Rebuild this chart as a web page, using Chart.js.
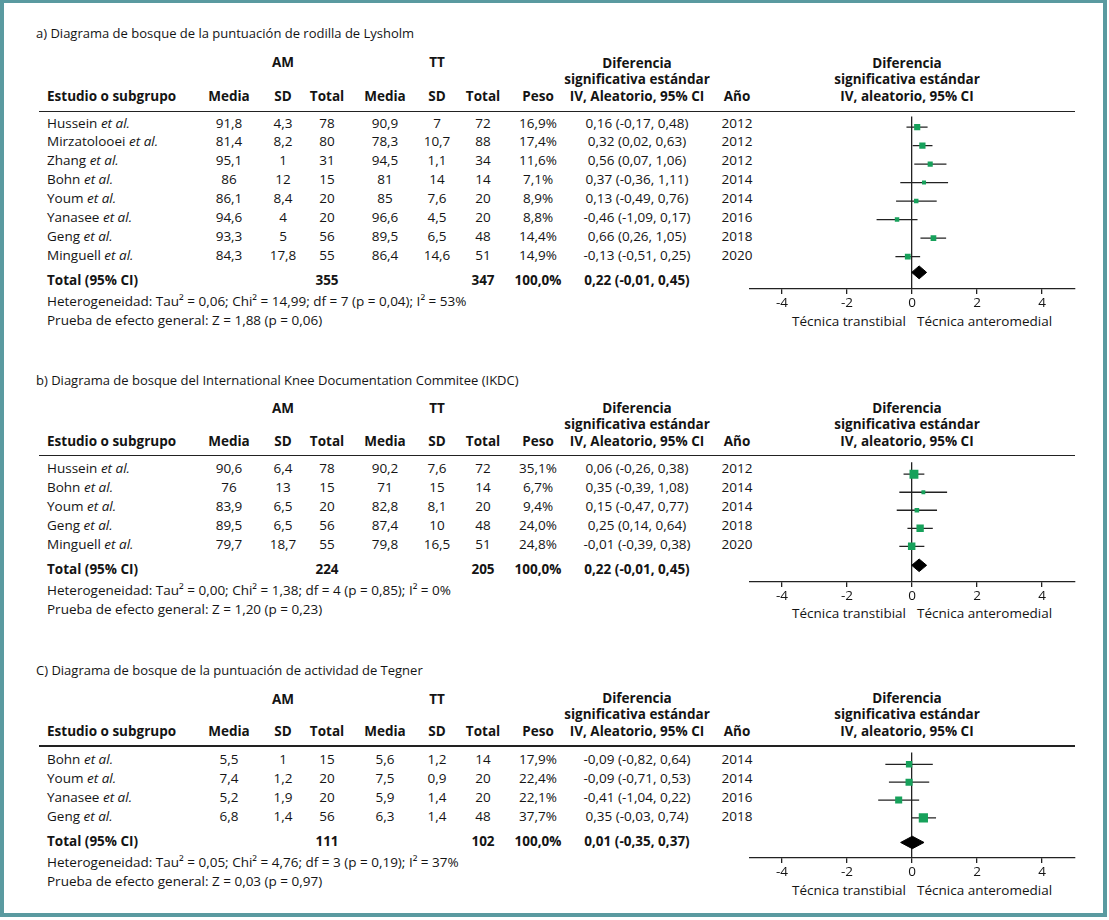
<!DOCTYPE html>
<html>
<head>
<meta charset="utf-8">
<script src="https://cdn.jsdelivr.net/npm/chart.js@4.4.1/dist/chart.umd.min.js"></script>
<style>
  body { margin: 0; background: #fff; }
  #page { position: relative; width: 1109px; height: 920px; overflow: hidden;
          font-family: "Open Sans", sans-serif; font-size: 13.5px; color: #141414; }
  #frame { position: absolute; left: 0; top: 0; width: 1107px; height: 917px; box-sizing: border-box;
           border: 4px solid #5a9aa0; border-top-width: 3px; }
  .t { position: absolute; white-space: nowrap; line-height: 14px; height: 14px; }
  .b { font-weight: 700; }
  .head { position: absolute; white-space: nowrap; line-height: 16.5px; text-align: center; font-weight: 700; }
  .rule { position: absolute; height: 1.3px; background: #222; }
  canvas { position: absolute; }
</style>
</head>
<body>
<div id="page"><div id="frame"></div></div>
<script>
// x axis ticks shared by the three forest plots
const xTicks = [-4, -2, 0, 2, 4];

// a) Lysholm
const aStudy = ['Hussein', 'Mirzatolooei', 'Zhang', 'Bohn', 'Youm', 'Yanasee', 'Geng', 'Minguell'];
const aAmMean = [91.8, 81.4, 95.1, 86, 86.1, 94.6, 93.3, 84.3];
const aAmSd = [4.3, 8.2, 1, 12, 8.4, 4, 5, 17.8];
const aAmN = [78, 80, 31, 15, 20, 20, 56, 55];
const aTtMean = [90.9, 78.3, 94.5, 81, 85, 96.6, 89.5, 86.4];
const aTtSd = [7, 10.7, 1.1, 14, 7.6, 4.5, 6.5, 14.6];
const aTtN = [72, 88, 34, 14, 20, 20, 48, 51];
const aWeight = [16.9, 17.4, 11.6, 7.1, 8.9, 8.8, 14.4, 14.9];
const aSmd = [0.16, 0.32, 0.56, 0.37, 0.13, -0.46, 0.66, -0.13];
const aLo = [-0.17, 0.02, 0.07, -0.36, -0.49, -1.09, 0.26, -0.51];
const aHi = [0.48, 0.63, 1.06, 1.11, 0.76, 0.17, 1.05, 0.25];
const aCi = ['0,16 (-0,17, 0,48)', '0,32 (0,02, 0,63)', '0,56 (0,07, 1,06)', '0,37 (-0,36, 1,11)',
             '0,13 (-0,49, 0,76)', '-0,46 (-1,09, 0,17)', '0,66 (0,26, 1,05)', '-0,13 (-0,51, 0,25)'];
const aYear = [2012, 2012, 2012, 2014, 2014, 2016, 2018, 2020];
const aTotal = [355, 347];          // AM, TT
const aPooled = [0.22, -0.01, 0.45]; // estimate, lower, upper

// b) IKDC
const bStudy = ['Hussein', 'Bohn', 'Youm', 'Geng', 'Minguell'];
const bAmMean = [90.6, 76, 83.9, 89.5, 79.7];
const bAmSd = [6.4, 13, 6.5, 6.5, 18.7];
const bAmN = [78, 15, 20, 56, 55];
const bTtMean = [90.2, 71, 82.8, 87.4, 79.8];
const bTtSd = [7.6, 15, 8.1, 10, 16.5];
const bTtN = [72, 14, 20, 48, 51];
const bWeight = [35.1, 6.7, 9.4, 24.0, 24.8];
const bSmd = [0.06, 0.35, 0.15, 0.25, -0.01];
const bLo = [-0.26, -0.39, -0.47, -0.14, -0.39];
const bHi = [0.38, 1.08, 0.77, 0.64, 0.38];
const bCi = ['0,06 (-0,26, 0,38)', '0,35 (-0,39, 1,08)', '0,15 (-0,47, 0,77)', '0,25 (0,14, 0,64)', '-0,01 (-0,39, 0,38)'];
const bYear = [2012, 2014, 2014, 2018, 2020];
const bTotal = [224, 205];
const bPooled = [0.22, -0.01, 0.45];

// c) Tegner
const cStudy = ['Bohn', 'Youm', 'Yanasee', 'Geng'];
const cAmMean = [5.5, 7.4, 5.2, 6.8];
const cAmSd = [1, 1.2, 1.9, 1.4];
const cAmN = [15, 20, 20, 56];
const cTtMean = [5.6, 7.5, 5.9, 6.3];
const cTtSd = [1.2, 0.9, 1.4, 1.4];
const cTtN = [14, 20, 20, 48];
const cWeight = [17.9, 22.4, 22.1, 37.7];
const cSmd = [-0.09, -0.09, -0.41, 0.35];
const cLo = [-0.82, -0.71, -1.04, -0.03];
const cHi = [0.64, 0.53, 0.22, 0.74];
const cCi = ['-0,09 (-0,82, 0,64)', '-0,09 (-0,71, 0,53)', '-0,41 (-1,04, 0,22)', '0,35 (-0,03, 0,74)'];
const cYear = [2014, 2014, 2016, 2018];
const cTotal = [111, 102];
const cPooled = [0.01, -0.35, 0.37];

const panels = [
  { title: 'a) Diagrama de bosque de la puntuación de rodilla de Lysholm',
    study: aStudy, amMean: aAmMean, amSd: aAmSd, amN: aAmN, ttMean: aTtMean, ttSd: aTtSd, ttN: aTtN,
    weight: aWeight, smd: aSmd, lo: aLo, hi: aHi, ci: aCi, year: aYear, total: aTotal, pooled: aPooled,
    het: 'Heterogeneidad: Tau² = 0,06; Chi² = 14,99; df = 7 (p = 0,04); I² = 53%',
    z: 'Prueba de efecto general: Z = 1,88 (p = 0,06)',
    titleY: 33, groupY: 62, headY: 96, ruleY: 111.5, rowY: 122.5, step: 18.9, diamondY: 271,
    totalY: 280, hetY: 301, zY: 320, axisY: 288, axisTitleY: 321 },
  { title: 'b) Diagrama de bosque del International Knee Documentation Commitee (IKDC)',
    study: bStudy, amMean: bAmMean, amSd: bAmSd, amN: bAmN, ttMean: bTtMean, ttSd: bTtSd, ttN: bTtN,
    weight: bWeight, smd: bSmd, lo: bLo, hi: bHi, ci: bCi, year: bYear, total: bTotal, pooled: bPooled,
    het: 'Heterogeneidad: Tau² = 0,00; Chi² = 1,38; df = 4 (p = 0,85); I² = 0%',
    z: 'Prueba de efecto general: Z = 1,20 (p = 0,23)',
    titleY: 380, groupY: 408, headY: 441, ruleY: 455.5, rowY: 468, step: 18.9, diamondY: 563.5,
    totalY: 569, hetY: 590, zY: 609, axisY: 581, axisTitleY: 613 },
  { title: 'C) Diagrama de bosque de la puntuación de actividad de Tegner',
    study: cStudy, amMean: cAmMean, amSd: cAmSd, amN: cAmN, ttMean: cTtMean, ttSd: cTtSd, ttN: cTtN,
    weight: cWeight, smd: cSmd, lo: cLo, hi: cHi, ci: cCi, year: cYear, total: cTotal, pooled: cPooled,
    het: 'Heterogeneidad: Tau² = 0,05; Chi² = 4,76; df = 3 (p = 0,19); I² = 37%',
    z: 'Prueba de efecto general: Z = 0,03 (p = 0,97)',
    titleY: 670, groupY: 699, headY: 731, ruleY: 746, rowY: 758.5, step: 19, diamondY: 841.5,
    totalY: 841, hetY: 862, zY: 881, axisY: 858, axisTitleY: 890 }
];

// column positions (centre x unless noted)
const col = { study: 47, amMean: 229, amSd: 283, amN: 327, ttMean: 385, ttSd: 437, ttN: 483,
              weight: 538, ci: 637, year: 737, plot: 907 };

const page = document.getElementById('page');
const num = v => String(v).replace('.', ',');
const pct = v => v.toFixed(1).replace('.', ',') + '%';

function addText(html, x, y, align, bold) {
  const d = document.createElement('div');
  d.className = 't' + (bold ? ' b' : '');
  d.innerHTML = html;
  d.style.left = x + 'px';
  d.style.top = (y - 7) + 'px';
  if (align === 'center') d.style.transform = 'translateX(-50%)';
  if (align === 'right') d.style.transform = 'translateX(-100%)';
  page.appendChild(d);
  return d;
}

// three-line column header, last line centred on y
function addHead(lines, x, y) {
  const d = document.createElement('div');
  d.className = 'head';
  d.innerHTML = lines.join('<br>');
  d.style.left = x + 'px';
  d.style.top = (y - 16.5 * 2 - 8.25) + 'px';
  d.style.transform = 'translateX(-50%)';
  page.appendChild(d);
}

function drawTable(p) {
  addText(p.title, 36, p.titleY, 'left').style.fontSize = '13px';
  addText('AM', col.amSd, p.groupY, 'center', true);
  addText('TT', col.ttSd, p.groupY, 'center', true);
  addHead(['Diferencia', 'significativa estándar', 'IV, Aleatorio, 95% CI'], col.ci, p.headY);
  addHead(['Diferencia', 'significativa estándar', 'IV, aleatorio, 95% CI'], col.plot, p.headY);
  addText('Estudio o subgrupo', col.study, p.headY, 'left', true);
  [['Media', 'amMean'], ['SD', 'amSd'], ['Total', 'amN'], ['Media', 'ttMean'], ['SD', 'ttSd'],
   ['Total', 'ttN'], ['Peso', 'weight'], ['Año', 'year']].forEach(([s, k]) =>
    addText(s, col[k], p.headY, 'center', true));

  const rule = document.createElement('div');
  rule.className = 'rule';
  rule.style.left = '39px';
  rule.style.width = '1036px';
  rule.style.top = (p.ruleY - 0.6) + 'px';
  page.appendChild(rule);

  p.study.forEach((s, i) => {
    const y = p.rowY + i * p.step;
    addText(s + ' <i>et al.</i>', col.study, y, 'left');
    addText(num(p.amMean[i]), col.amMean, y, 'center');
    addText(num(p.amSd[i]), col.amSd, y, 'center');
    addText(p.amN[i], col.amN, y, 'center');
    addText(num(p.ttMean[i]), col.ttMean, y, 'center');
    addText(num(p.ttSd[i]), col.ttSd, y, 'center');
    addText(p.ttN[i], col.ttN, y, 'center');
    addText(pct(p.weight[i]), col.weight, y, 'center');
    addText(p.ci[i], col.ci, y, 'center');
    addText(p.year[i], col.year, y, 'center');
  });

  const f2 = v => v.toFixed(2).replace('.', ',');
  addText('Total (95% CI)', col.study, p.totalY, 'left', true);
  addText(p.total[0], col.amN, p.totalY, 'center', true);
  addText(p.total[1], col.ttN, p.totalY, 'center', true);
  addText(pct(100), col.weight, p.totalY, 'center', true);
  addText(`${f2(p.pooled[0])} (${f2(p.pooled[1])}, ${f2(p.pooled[2])})`, col.ci, p.totalY, 'center', true);
  addText(p.het, col.study, p.hetY, 'left');
  addText(p.z, col.study, p.zY, 'left');

  addText('Técnica transtibial', 906, p.axisTitleY, 'right');
  addText('Técnica anteromedial', 917, p.axisTitleY, 'left');
}

function drawForest(p) {
  const axisH = 30;
  const canvas = document.createElement('canvas');
  canvas.width = 345;
  canvas.height = Math.round(p.axisY - p.ruleY) + axisH;
  canvas.style.left = '740px';
  canvas.style.top = p.ruleY + 'px';
  page.appendChild(canvas);

  const toRow = px => (px - p.rowY) / p.step;
  const dy = toRow(p.diamondY), dh = 6.6 / p.step;
  const [est, lo, hi] = p.pooled;

  const datasets = [
    { type: 'scatter', data: p.smd.map((v, i) => ({ x: v, y: i })),
      pointStyle: 'rect', pointRadius: c => 1.06 * Math.sqrt(p.weight[c.dataIndex]),
      backgroundColor: '#17a15b', borderWidth: 0, order: 0 },
    { type: 'line', data: [{ x: lo, y: dy }, { x: est, y: dy - dh }, { x: hi, y: dy }, { x: est, y: dy + dh }, { x: lo, y: dy }],
      borderColor: '#000', backgroundColor: '#000', borderWidth: 1, fill: 'shape', pointRadius: 0, tension: 0, order: 1 }
  ];
  p.lo.forEach((l, i) => datasets.push({
    type: 'line', data: [{ x: l, y: i }, { x: p.hi[i], y: i }],
    borderColor: '#222', borderWidth: 1.3, pointRadius: 0, order: 2
  }));

  new Chart(canvas, {
    type: 'scatter',
    data: { datasets: datasets },
    options: {
      responsive: false,
      animation: false,
      events: [],
      layout: { padding: { left: 9.5, right: 10.5, top: 0, bottom: 0 } },
      plugins: { legend: { display: false }, tooltip: { enabled: false } },
      scales: {
        x: {
          type: 'linear', min: -5, max: 5,
          afterBuildTicks: s => { s.ticks = xTicks.map(v => ({ value: v })); },
          afterFit: s => { s.height = axisH; },
          grid: {
            color: c => (c.tick && c.tick.value === 0) ? '#222' : 'rgba(0,0,0,0)',
            lineWidth: 1.3, tickLength: 5, tickColor: '#222', tickWidth: 1.3
          },
          border: { display: true, color: '#222', width: 1.3 },
          ticks: { color: '#141414', font: { family: 'Open Sans', size: 13.5 }, padding: 1,
                   maxRotation: 0, autoSkip: false, callback: v => String(v) }
        },
        y: { type: 'linear', display: false, reverse: true, min: toRow(p.ruleY), max: toRow(p.axisY) }
      }
    }
  });
}

panels.forEach(p => { drawTable(p); drawForest(p); });
</script>
</body>
</html>
